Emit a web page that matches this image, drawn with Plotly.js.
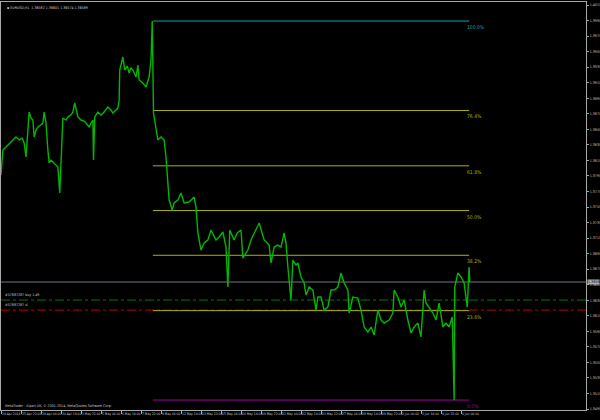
<!DOCTYPE html>
<html>
<head>
<meta charset="utf-8">
<script src="https://cdn.plot.ly/plotly-3.0.1.min.js"></script>
<style>html,body{margin:0;padding:0;background:#000;}#chart{width:600px;height:420px;}</style>
</head>
<body>
<div id="chart"></div>
<script>
// ---- data (EURUSD H1, bar index vs close) ----
const bars = [0,3,8,14,19,24,29,34,37,40,45,48,51,53,56,59,64,67,69,72,75,77,80,85,91,94,98,99,104,107,112,115,118,123,128,133,136,141,144,147,148,150,155,160,165,171,176,179,184,187,189,190,195,198,202,205,208,211,216,219,221,227,232,237,240,242,244,248,251,256,261,264,267,269,274,277,283,288,293,301,309,312,315,320,325,331,336,341,344,349,355,360,363,366,373,378,384,387,395,400,408,413,421,429,432,437,443,448,453,456,459,461,464,467,472,475,480,485,488,493,499,504,507,512,517,523,528,533,539,544,549,555,557,563,571,576,581,587,592,597,603,608,613,621,627,629,635,640,645,651,656,661,667,672,677,680,685,691,696,701,707,712,717,722,725,726,731,736,741,746,749,750];
const closes = [1.37962,1.38284,1.38322,1.38374,1.38413,1.38451,1.38413,1.38438,1.38374,1.38194,1.38773,1.38696,1.38670,1.38451,1.38541,1.38580,1.38606,1.38631,1.38773,1.38631,1.38284,1.38117,1.38155,1.38117,1.38065,1.37730,1.38503,1.38696,1.38670,1.38709,1.38734,1.38773,1.38889,1.38709,1.38670,1.38657,1.38631,1.38580,1.38631,1.38670,1.38155,1.38709,1.38773,1.38734,1.38773,1.38837,1.38799,1.38760,1.38799,1.38824,1.38927,1.39313,1.39481,1.39313,1.39365,1.39275,1.39339,1.39313,1.39223,1.39378,1.39185,1.39146,1.39095,1.39223,1.39442,1.39944,1.38760,1.38580,1.38413,1.38451,1.38413,1.38194,1.37898,1.37640,1.37512,1.37602,1.37640,1.37730,1.37602,1.37615,1.37679,1.37550,1.37216,1.36997,1.37087,1.37126,1.37254,1.37164,1.37126,1.37164,1.37229,1.37035,1.36521,1.37254,1.37126,1.37216,1.37254,1.36894,1.36997,1.37126,1.37254,1.37344,1.37126,1.37061,1.36830,1.37035,1.37061,1.37035,1.37216,1.37087,1.36778,1.36611,1.36353,1.36868,1.36804,1.36830,1.36650,1.36572,1.36418,1.36521,1.36482,1.36224,1.36392,1.36392,1.36224,1.36263,1.36482,1.36482,1.36521,1.36701,1.36572,1.36482,1.36186,1.36392,1.36379,1.36224,1.36006,1.35942,1.36006,1.35903,1.36224,1.36096,1.36057,1.36096,1.36186,1.36482,1.36392,1.36263,1.36353,1.36096,1.35929,1.36006,1.36057,1.35877,1.36482,1.36315,1.36263,1.36186,1.36096,1.36315,1.36006,1.36057,1.36006,1.36135,1.35066,1.36521,1.36701,1.36650,1.36572,1.36263,1.36778,1.36585];

const timeLabels = ["24 Apr 2014","25 Apr 22:00","29 Apr 06:00","30 Apr 14:00","1 May 22:00","5 May 06:00","6 May 14:00","7 May 22:00","9 May 06:00","12 May 14:00","13 May 22:00","15 May 06:00","16 May 14:00","19 May 22:00","21 May 06:00","22 May 14:00","23 May 22:00","27 May 06:00","28 May 14:00","29 May 22:00","2 Jun 06:00","3 Jun 14:00","4 Jun 22:00","6 Jun 06:00"];
const barsPerLabel = 32;

// Fibonacci retracement
const fibHigh = 1.39944, fibLow = 1.35066;
const fibStartBar = 243, fibEndBar = 749;
const fibRatios = [1.0, 0.764, 0.618, 0.5, 0.382, 0.236, 0.0];
const fibNames  = ["100.0%","76.4%","61.8%","50.0%","38.2%","23.6%","0.0%"];
const fibColors = ["#00aaaa","#b0b000","#b0b000","#b0b000","#b0b000","#b0b000","#a000a0"];

// order lines
const bidPrice = 1.36585;
const buyPrice = 1.36353, slPrice = 1.36224;
const buyLabel = "#57887287 buy 1.49", slLabel = "#57887287 sl";
const headerText = "EURUSD,H1  1.36582 1.36601 1.36574 1.36589";
const footerText = "MetaTrader - Alpari UK, © 2001-2014, MetaQuotes Software Corp.";

const xMin = 0, xMax = 936;
const yMin = 1.34938, yMax = 1.40189;

// ---- traces ----
const traces = [];
traces.push({x:[xMin,xMax], y:[bidPrice,bidPrice], mode:'lines', line:{color:'#6e7480', width:1}, hoverinfo:'skip'});
traces.push({x:[xMin,xMax], y:[buyPrice,buyPrice], mode:'lines', line:{color:'#007a00', width:1, dash:'dashdot'}, hoverinfo:'skip'});
traces.push({x:[xMin,xMax], y:[slPrice,slPrice], mode:'lines', line:{color:'#c00000', width:1, dash:'dashdot'}, hoverinfo:'skip'});
const fibPrices = fibRatios.map(r => fibLow + r*(fibHigh-fibLow));
fibPrices.forEach((p,i)=>{
  traces.push({x:[fibStartBar,fibEndBar], y:[p,p], mode:'lines', line:{color:fibColors[i], width:1}, hoverinfo:'skip'});
});
traces.push({x:bars, y:closes, mode:'lines', line:{color:'#00b800', width:1.4}, hoverinfo:'skip'});

const FONT = 'Liberation Sans Narrow, DejaVu Sans Condensed, Liberation Sans, sans-serif';
const small = {family:FONT, size:3.6, color:'#c8c8c8'};
const xfont = {family:FONT, size:3.3, color:'#c8c8c8'};
const annotations = [];
fibPrices.forEach((p,i)=>{
  annotations.push({x:fibEndBar, y:p, xref:'x', yref:'y', text:fibNames[i], showarrow:false,
    xanchor:'left', yanchor:'top', xshift:-4, yshift:-1,
    font:{family:FONT, size:5, color:fibColors[i]}});
});
annotations.push({x:0.004, y:buyPrice, xref:'paper', yref:'y', text:buyLabel, showarrow:false, xanchor:'left', yanchor:'bottom', yshift:1, font:small});
annotations.push({x:0.004, y:slPrice, xref:'paper', yref:'y', text:slLabel, showarrow:false, xanchor:'left', yanchor:'bottom', yshift:1, font:small});
annotations.push({x:0.006, y:1, xref:'paper', yref:'paper', text:'▪ '+headerText, showarrow:false, xanchor:'left', yanchor:'top', yshift:-2, font:small});
annotations.push({x:0.004, y:0, xref:'paper', yref:'paper', text:footerText, showarrow:false, xanchor:'left', yanchor:'bottom', yshift:0, font:small});
annotations.push({x:1, y:bidPrice, xref:'paper', yref:'y', text:bidPrice.toFixed(4), showarrow:false, xanchor:'left', yanchor:'middle', xshift:1,
  bgcolor:'#b0b0b0', borderpad:0, font:{family:FONT, size:3.6, color:'#000'}});

const layout = {
  width:600, height:420,
  margin:{l:1, r:14, t:2, b:10, pad:0},
  paper_bgcolor:'#000', plot_bgcolor:'#000',
  showlegend:false,
  xaxis:{range:[xMin,xMax], showgrid:false, zeroline:false, showline:true, mirror:true, linecolor:'#a8a8a8', linewidth:1,
    tickmode:'array', tickvals:timeLabels.map((_,i)=>i*barsPerLabel), ticktext:timeLabels,
    ticks:'outside', ticklen:3, tickcolor:'#a8a8a8', ticklabelposition:'outside right', tickangle:0,
    tickfont:xfont, fixedrange:true, automargin:false},
  yaxis:{range:[yMin,yMax], side:'right', showgrid:false, zeroline:false, showline:true, mirror:true, linecolor:'#a8a8a8', linewidth:1,
    tick0:1.3495, dtick:0.002, tickformat:'.4f', ticks:'outside', ticklen:2, tickcolor:'#a8a8a8',
    tickfont:small, fixedrange:true, automargin:false},
  annotations:annotations
};
Plotly.newPlot('chart', traces, layout, {displayModeBar:false, staticPlot:true});
</script>
</body>
</html>
